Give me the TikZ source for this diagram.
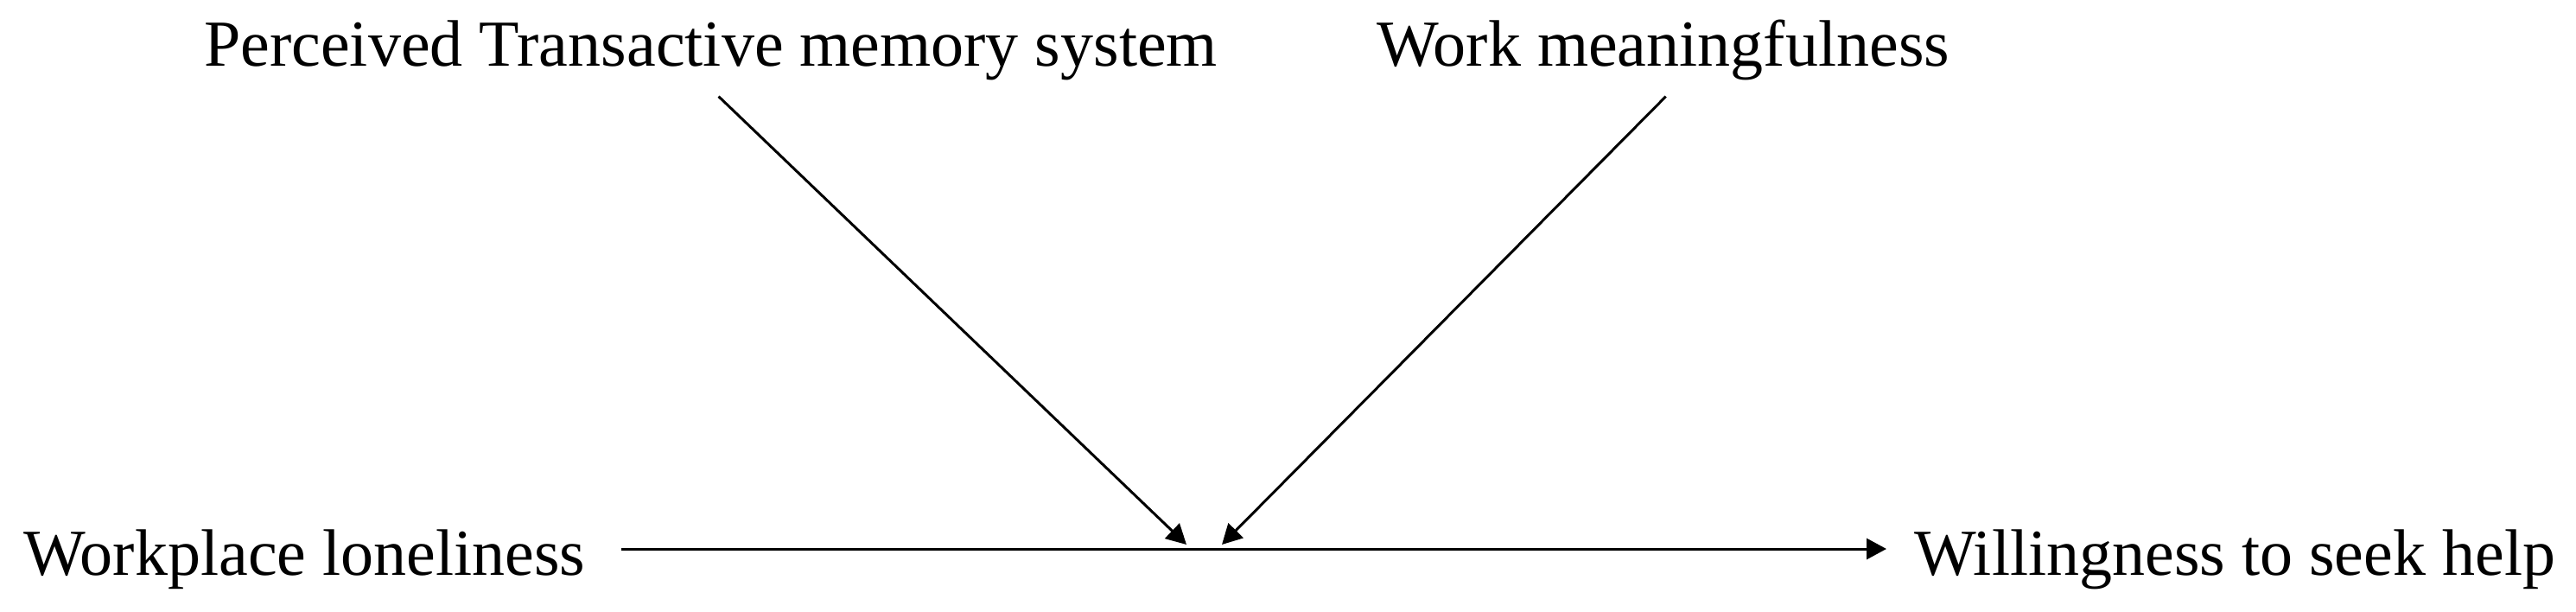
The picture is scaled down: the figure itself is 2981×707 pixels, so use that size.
\documentclass[tikz,border=0pt]{standalone}
\usepackage{fontspec}
\setmainfont{Liberation Serif}
\usetikzlibrary{positioning,arrows.meta}

\begin{document}
\begin{tikzpicture}[x=1pt,y=-1pt,
 var/.style={inner sep=0pt,anchor=base west,font=\fontsize{76}{90}\selectfont},
 arr/.style={-{Triangle[length=23pt,width=24pt]},line width=3pt}]
\useasboundingbox (0,0) rectangle (2981,707);
\node[var] (lonely) at (27,665) {Workplace loneliness};
\node[var] (help) at (2215,665) {Willingness to seek help};
\node[var] (tms) at (236,76) {Perceived Transactive memory system};
\node[var] (meaning) at (1593,76) {Work meaningfulness};
\coordinate (hitl) at (1373,630);
\coordinate (hitr) at (1414,630);
\draw[arr] ([xshift=41pt,yshift=30pt]lonely.base east) -- ([xshift=-32pt,yshift=30pt]help.base west);
\draw[arr] ([xshift=9pt,yshift=-19pt]tms.south) -- (hitl);
\draw[arr] ([xshift=3pt,yshift=-19pt]meaning.south) -- (hitr);
\end{tikzpicture}
\end{document}
